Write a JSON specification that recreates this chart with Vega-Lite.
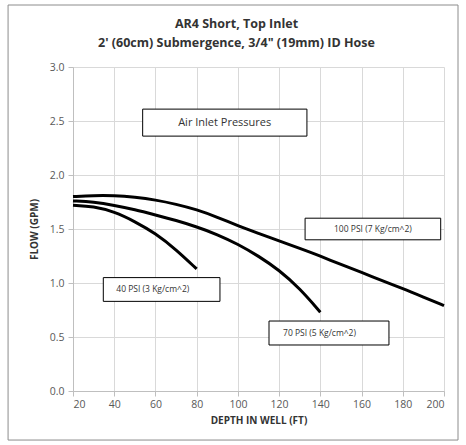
{
  "$schema": "https://vega.github.io/schema/vega-lite/v6.json",
  "width": 371,
  "height": 324,
  "autosize": {"type": "none"},
  "padding": {"left": 73, "top": 67, "right": 22, "bottom": 54},
  "background": "white",
  "title": {
    "text": ["AR4 Short, Top Inlet", "2' (60cm) Submergence, 3/4\" (19mm) ID Hose"],
    "font": "Open Sans",
    "fontSize": 12.5,
    "fontWeight": "bold",
    "color": "#333333",
    "anchor": "middle",
    "offset": 0,
    "dy": 45,
    "dx": -22,
    "lineHeight": 19
  },
  "config": {
    "view": {"stroke": null},
    "font": "Open Sans",
    "axis": {
      "gridColor": "#d9d9d9",
      "domainColor": "#bfbfbf",
      "tickColor": "#bfbfbf",
      "labelColor": "#595959",
      "labelFont": "Open Sans",
      "labelFontSize": 10.5,
      "titleFont": "Open Sans",
      "titleFontSize": 10,
      "titleFontWeight": "bold",
      "titleColor": "#333333"
    }
  },
  "datasets": {
    "curves": [
      {"series": "100", "depth": 20, "flow": 1.80},
      {"series": "100", "depth": 30, "flow": 1.81},
      {"series": "100", "depth": 40, "flow": 1.81},
      {"series": "100", "depth": 50, "flow": 1.795},
      {"series": "100", "depth": 60, "flow": 1.77},
      {"series": "100", "depth": 70, "flow": 1.73},
      {"series": "100", "depth": 80, "flow": 1.68},
      {"series": "100", "depth": 90, "flow": 1.61},
      {"series": "100", "depth": 100, "flow": 1.53},
      {"series": "100", "depth": 110, "flow": 1.46},
      {"series": "100", "depth": 120, "flow": 1.39},
      {"series": "100", "depth": 130, "flow": 1.32},
      {"series": "100", "depth": 140, "flow": 1.25},
      {"series": "100", "depth": 150, "flow": 1.17},
      {"series": "100", "depth": 160, "flow": 1.10},
      {"series": "100", "depth": 170, "flow": 1.02},
      {"series": "100", "depth": 180, "flow": 0.95},
      {"series": "100", "depth": 190, "flow": 0.87},
      {"series": "100", "depth": 200, "flow": 0.79},
      {"series": "70", "depth": 20, "flow": 1.76},
      {"series": "70", "depth": 30, "flow": 1.75},
      {"series": "70", "depth": 40, "flow": 1.72},
      {"series": "70", "depth": 50, "flow": 1.68},
      {"series": "70", "depth": 60, "flow": 1.63},
      {"series": "70", "depth": 70, "flow": 1.58},
      {"series": "70", "depth": 80, "flow": 1.52},
      {"series": "70", "depth": 90, "flow": 1.45},
      {"series": "70", "depth": 100, "flow": 1.36},
      {"series": "70", "depth": 110, "flow": 1.25},
      {"series": "70", "depth": 120, "flow": 1.12},
      {"series": "70", "depth": 130, "flow": 0.95},
      {"series": "70", "depth": 140, "flow": 0.73},
      {"series": "40", "depth": 20, "flow": 1.72},
      {"series": "40", "depth": 30, "flow": 1.71},
      {"series": "40", "depth": 40, "flow": 1.66},
      {"series": "40", "depth": 50, "flow": 1.57},
      {"series": "40", "depth": 60, "flow": 1.46},
      {"series": "40", "depth": 70, "flow": 1.31},
      {"series": "40", "depth": 80, "flow": 1.13}
    ],
    "boxes": [
      {"label": "Air Inlet Pressures", "x1": 53.8, "x2": 133.5, "y1": 2.36, "y2": 2.61, "tx": 93.6, "ty": 2.485, "size": 11},
      {"label": "40 PSI (3 Kg/cm^2)", "x1": 34.7, "x2": 91.3, "y1": 0.83, "y2": 1.05, "tx": 58.7, "ty": 0.94, "size": 8.5},
      {"label": "70 PSI (5 Kg/cm^2)", "x1": 115.1, "x2": 173.3, "y1": 0.426, "y2": 0.648, "tx": 139.6, "ty": 0.537, "size": 8.5},
      {"label": "100 PSI (7 Kg/cm^2)", "x1": 132.6, "x2": 198.4, "y1": 1.40, "y2": 1.60, "tx": 165.5, "ty": 1.50, "size": 8.5}
    ],
    "frame": [
      {"x1": -11.5, "x2": 206.8, "y1": -0.454, "y2": 3.574}
    ]
  },
  "layer": [
    {
      "data": {"name": "frame"},
      "mark": {"type": "rect", "fill": null, "stroke": "#8c8c8c", "strokeWidth": 1, "clip": false},
      "encoding": {
        "x": {"field": "x1", "type": "quantitative", "scale": {"domain": [20, 200]}},
        "x2": {"field": "x2"},
        "y": {"field": "y1", "type": "quantitative", "scale": {"domain": [0, 3]}},
        "y2": {"field": "y2"}
      }
    },
    {
      "data": {"name": "curves"},
      "mark": {"type": "line", "color": "black", "strokeWidth": 3, "interpolate": "basis"},
      "encoding": {
        "x": {
          "field": "depth", "type": "quantitative",
          "scale": {"domain": [20, 200], "nice": false},
          "axis": {"title": "DEPTH IN WELL (FT)", "values": [20,40,60,80,100,120,140,160,180,200], "tickSize": 5, "labelPadding": 3, "titlePadding": 6}
        },
        "y": {
          "field": "flow", "type": "quantitative",
          "scale": {"domain": [0, 3], "nice": false},
          "axis": {"title": "FLOW (GPM)", "values": [0,0.5,1,1.5,2,2.5,3], "format": ".1f", "tickSize": 5, "labelPadding": 4, "titlePadding": 10}
        },
        "detail": {"field": "series"}
      }
    },
    {
      "data": {"name": "boxes"},
      "mark": {"type": "rect", "fill": "white", "stroke": "black", "strokeWidth": 1},
      "encoding": {
        "x": {"field": "x1", "type": "quantitative"},
        "x2": {"field": "x2"},
        "y": {"field": "y1", "type": "quantitative"},
        "y2": {"field": "y2"}
      }
    },
    {
      "data": {"name": "boxes"},
      "mark": {"type": "text", "color": "#333333", "font": "Open Sans", "align": "center", "baseline": "middle"},
      "encoding": {
        "x": {"field": "tx", "type": "quantitative"},
        "y": {"field": "ty", "type": "quantitative"},
        "text": {"field": "label"},
        "size": {"field": "size", "type": "quantitative", "scale": null}
      }
    }
  ]
}
